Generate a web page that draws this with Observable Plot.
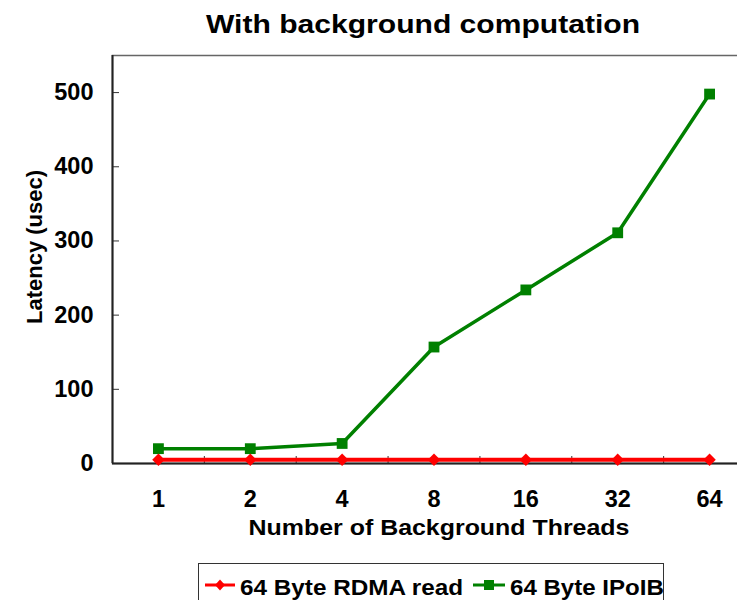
<!DOCTYPE html>
<html><head><meta charset="utf-8">
<script src="https://cdn.jsdelivr.net/npm/d3@7"></script>
<script src="https://cdn.jsdelivr.net/npm/@observablehq/plot@0.6"></script>
<style>
html,body{margin:0;padding:0;background:#fff;overflow:hidden;}
#wrap{position:relative;width:737px;height:600px;overflow:hidden;background:#fff;}
#wrap svg{position:absolute;left:0;top:0;max-width:none !important;}
</style></head><body><div id="wrap"></div>
<script>
// ---- data ----
const threads = ["1", "2", "4", "8", "16", "32", "64"];
const rdmaRead = [5, 5, 5, 5, 5, 5, 5];
const ipoib = [20, 20, 27, 157, 234, 311, 498];
const yTicks = [0, 100, 200, 300, 400, 500];
const seriesNames = ["64 Byte RDMA read", "64 Byte IPoIB"];
const seriesColors = ["#ff0000", "#008000"];
const titleText = "With background computation";
const xLabel = "Number of Background Threads";
const yLabel = "Latency (usec)";

const rdmaData = threads.map((t, i) => ({i, v: rdmaRead[i]}));
const ipoibData = threads.map((t, i) => ({i, v: ipoib[i]}));
const boundaries = threads.slice(1).map((t, i) => i + 0.5);
const font = "'Liberation Sans', Arial, Helvetica, sans-serif";

const chart = Plot.plot({
  width: 755, height: 600,
  marginLeft: 112, marginRight: 0, marginTop: 55, marginBottom: 137,
  style: {fontFamily: font, fontWeight: "bold", fontSize: "23px", color: "#000", background: "transparent", maxWidth: "none"},
  x: {domain: [-0.5, 6.5]},
  y: {domain: [0, 550]},
  marks: [
    Plot.frame({stroke: "#666", strokeWidth: 1.5}),
    Plot.axisY(yTicks, {tickSize: 0, tickPadding: 19, fontSize: 23.5, fontWeight: "bold", label: null}),
    Plot.axisY(yTicks, {tickSize: -7, tickFormat: () => "", label: null, stroke: "#333"}),
    Plot.axisX(threads.map((t, i) => i), {tickSize: 0, tickPadding: 27, fontSize: 23.5, fontWeight: "bold", tickFormat: i => threads[i], label: null}),
    Plot.axisX(boundaries, {tickSize: -7, tickFormat: () => "", label: null, stroke: "#333"}),
    Plot.ruleX([-0.5], {stroke: "#222", strokeWidth: 2}),
    Plot.ruleY([0], {stroke: "#222", strokeWidth: 2}),
    Plot.line(ipoibData, {x: "i", y: "v", stroke: seriesColors[1], strokeWidth: 3.5}),
    Plot.dot(ipoibData, {x: "i", y: "v", symbol: "square", r: 6.1, fill: seriesColors[1], stroke: "none"}),
    Plot.line(rdmaData, {x: "i", y: "v", stroke: seriesColors[0], strokeWidth: 4}),
    Plot.dot(rdmaData, {x: "i", y: "v", symbol: "diamond2", r: 5.6, fill: seriesColors[0], stroke: "none"})
  ]
});
chart.style.maxWidth = "none";
chart.style.width = "755px";
chart.style.height = "600px";
const wrap = document.getElementById("wrap");
wrap.appendChild(chart);

// ---- overlay texts and legend ----
const ns = "http://www.w3.org/2000/svg";
const ov = document.createElementNS(ns, "svg");
ov.setAttribute("width", 737); ov.setAttribute("height", 600);
ov.setAttribute("font-family", font); ov.setAttribute("font-weight", "bold");
function txt(s, transform, size, anchor) {
  const t = document.createElementNS(ns, "text");
  t.textContent = s;
  t.setAttribute("transform", transform);
  t.setAttribute("font-size", size);
  t.setAttribute("text-anchor", anchor);
  t.setAttribute("fill", "#000");
  ov.appendChild(t);
  return t;
}
function el(name, attrs) {
  const e = document.createElementNS(ns, name);
  for (const k in attrs) e.setAttribute(k, attrs[k]);
  ov.appendChild(e);
  return e;
}
txt(titleText, "translate(423,33) scale(1.18,1)", 25.5, "middle");
txt(xLabel, "translate(439,535) scale(1.16,1)", 21.5, "middle");
txt(yLabel, "translate(42,247) rotate(-90)", 22, "middle");

el("rect", {x: 198.5, y: 563.5, width: 465, height: 60, fill: "#fff", stroke: "#333", "stroke-width": 1});
// item 1
el("line", {x1: 205, x2: 235, y1: 585, y2: 585, stroke: seriesColors[0], "stroke-width": 3});
el("path", {d: "M220,579.5L225,585L220,590.5L215,585Z", fill: seriesColors[0]});
txt(seriesNames[0], "translate(240,595) scale(1.08,1)", 22.5, "start");
// item 2
el("line", {x1: 473, x2: 505, y1: 585, y2: 585, stroke: seriesColors[1], "stroke-width": 3});
el("rect", {x: 484, y: 580, width: 10, height: 10, fill: seriesColors[1]});
txt(seriesNames[1], "translate(510,595) scale(1.07,1)", 22.5, "start");
wrap.appendChild(ov);
</script></body></html>
